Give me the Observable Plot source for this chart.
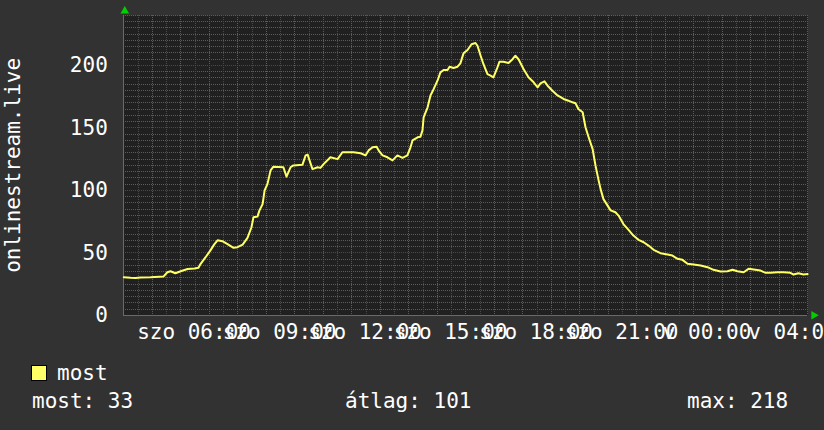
<!DOCTYPE html>
<html>
<head>
<meta charset="utf-8">
<script src="https://cdn.jsdelivr.net/npm/d3@7"></script>
<script src="https://cdn.jsdelivr.net/npm/@observablehq/plot@0.6"></script>
<style>
  html, body { margin: 0; padding: 0; background: #323232; overflow: hidden; }
  #wrap { position: relative; width: 824px; height: 430px; background: #323232; font-family: "DejaVu Sans Mono", monospace; color: #fff; }
  #chart svg { display: block; overflow: hidden; }
  .lg { position: absolute; font-size: 21px; line-height: 21px; white-space: pre; color: #fff; }
  .sw { position: absolute; left: 31px; top: 365px; width: 14px; height: 14px; background: #ffff66; border: 1px solid #000; }
</style>
</head>
<body>
<div id="wrap">
  <div id="chart"></div>
</div>
<script>
// hours since Saturday 00:00 (elapsed), and viewer counts
const hours = [3.5, 3.74, 3.91, 4.09, 4.44, 4.89, 5.03, 5.14, 5.31, 5.52, 5.74, 5.98, 6.12, 6.19, 6.37, 6.54, 6.68, 6.79, 6.96, 7.14,
  7.35, 7.49, 7.67, 7.84, 7.98, 8.05, 8.19, 8.26, 8.37, 8.44, 8.54, 8.65, 8.75, 9.10, 9.21, 9.35, 9.45, 9.77, 9.88, 9.95,
  10.12, 10.30, 10.40, 10.51, 10.75, 11.00, 11.17, 11.56, 11.81, 11.98, 12.09, 12.23, 12.37, 12.47, 12.58, 12.75, 12.93, 13.10, 13.28, 13.45,
  13.56, 13.63, 13.81, 13.91, 13.98, 14.02, 14.16, 14.26, 14.37, 14.51, 14.61, 14.72, 14.86, 14.93, 15.07, 15.21, 15.31, 15.42, 15.56, 15.70,
  15.84, 15.91, 16.02, 16.12, 16.26, 16.37, 16.47, 16.61, 16.68, 16.82, 17.00, 17.14, 17.24, 17.35, 17.53, 17.70, 17.88, 18.02, 18.12, 18.26,
  18.37, 18.54, 18.72, 18.93, 19.10, 19.24, 19.35, 19.45, 19.60, 19.70, 19.81, 19.95, 20.05, 20.16, 20.23, 20.33, 20.47, 20.58, 20.75, 20.86,
  21.03, 21.21, 21.38, 21.56, 21.74, 21.91, 22.09, 22.33, 22.58, 22.75, 22.93, 23.10, 23.28, 23.49, 23.74, 23.98, 24.19, 24.44, 24.68, 24.86,
  25.03, 25.25, 25.42, 25.60, 25.84, 26.02, 26.19, 26.44, 26.65, 26.89, 27.00, 27.17, 27.35, 27.49];
const viewers = [30.5, 30, 29.8, 30.3, 30.5, 31, 34.5, 35.3, 33.7, 35.5, 37, 37.5, 38, 41, 46.5, 52, 57, 60, 59.3, 57,
  54, 54.5, 56.6, 62, 70.5, 78.5, 79, 84, 89, 100, 105, 116, 119, 118.5, 111, 118.5, 120, 120.6, 128, 128.6,
  117, 118.5, 118, 121, 126.5, 125, 130.5, 130.5, 129.7, 128, 132, 134.5, 135, 131, 128, 126.5, 124, 128, 126, 128,
  134.5, 140, 142.5, 143, 148, 158.5, 166.5, 176, 181, 188, 194.5, 196.4, 196.4, 199, 198, 199, 201.7, 209.7, 212.4, 217,
  218, 215.8, 207.8, 201, 193, 191.8, 190.5, 198.5, 203, 203, 202, 205, 207.8, 205, 197, 190.5, 186.5, 182.5, 185.7, 187.3,
  183.8, 179.8, 176, 173.2, 171.8, 170.5, 169.7, 165.2, 162.5, 150.5, 142.5, 133, 120, 108, 101, 93, 88, 84, 82.5, 79.8,
  73, 68.4, 63.8, 60.4, 58.5, 55.8, 52.4, 49.7, 48.6, 47.8, 45.2, 44.4, 41.2, 40.6, 39.8, 38.5, 36.4, 35, 35.3, 36.4,
  35.3, 34.5, 37.2, 36.6, 35.8, 34, 34, 34.5, 34.5, 34, 32.6, 33.7, 32.6, 33];

const xTicks = [6, 9, 12, 15, 18, 21, 24, 27];
const xTickLabels = ["szo 06:00", "szo 09:00", "szo 12:00", "szo 15:00", "szo 18:00", "szo 21:00", "v 00:00", "v 04:00"];
const yTicks = [0, 50, 100, 150, 200];
const yTitle = "onlinestream.live";
const legendName = "most";
const statLabels = ["most", "átlag", "max"];
const statValues = [33, 101, 218];

const data = hours.map((h, i) => ({h, v: viewers[i]}));

const minorY = d3.range(0, 241, 5).filter(v => v % 50 !== 0);
const majorY = yTicks.filter(v => v > 0);
const minorX = d3.range(3.5, 27.51, 1);
const majorX = d3.range(4, 27.51, 1);

const gridMinor = "#5c5c5c";
const gridMajor = "#7c3434";

const plot = Plot.plot({
  width: 824,
  height: 350,
  marginLeft: 123.3,
  marginRight: 16.7,
  marginTop: 15,
  marginBottom: 35.2,
  x: {domain: [3.5, 27.5]},
  y: {domain: [0, 240]},
  style: {background: "transparent", color: "#fff", fontFamily: "'DejaVu Sans Mono', monospace", fontSize: "21px", overflow: "hidden"},
  marks: [
    Plot.frame({fill: "#202020", stroke: null}),
    Plot.ruleY(minorY, {stroke: gridMinor, strokeDasharray: "1,1", shapeRendering: "crispEdges"}),
    Plot.ruleX(minorX, {stroke: gridMinor, strokeDasharray: "1,1", shapeRendering: "crispEdges"}),
    Plot.ruleY(majorY, {stroke: gridMajor, strokeDasharray: "1,1", shapeRendering: "crispEdges"}),
    Plot.ruleX(majorX, {stroke: gridMajor, strokeDasharray: "1,1", shapeRendering: "crispEdges"}),
    Plot.ruleY([0], {stroke: "#6a6a6a", shapeRendering: "crispEdges"}),
    Plot.ruleX([3.5], {stroke: "#6a6a6a", shapeRendering: "crispEdges"}),
    Plot.line(data, {x: "h", y: "v", stroke: "#ffff66", strokeWidth: 2}),
    Plot.axisY(yTicks, {tickSize: 0, tickPadding: 16, fill: "#fff", fontSize: 21, label: null}),
    Plot.axisX(xTicks, {tickSize: 0, tickPadding: 9, fill: "#fff", fontSize: 21, label: null, dx: -1,
      tickFormat: d => xTickLabels[xTicks.indexOf(d)]}),
    Plot.text([yTitle], {frameAnchor: "left", textAnchor: "middle", lineAnchor: "middle", rotate: -90, dx: -111, fill: "#fff", fontSize: 21, text: d => d}),
    Plot.dot([0], {frameAnchor: "top-left", symbol: "triangle", r: 3.2, fill: "#00d000", stroke: null, dy: -4.5, dx: 1}),
    Plot.dot([0], {frameAnchor: "bottom-right", symbol: "triangle", rotate: 90, r: 3.2, fill: "#00d000", stroke: null, dx: 6})
  ]
});
document.getElementById("chart").appendChild(plot);

const wrap = document.getElementById("wrap");
const sw = document.createElement("div");
sw.className = "sw";
wrap.appendChild(sw);
function addText(txt, left, top) {
  const d = document.createElement("div");
  d.className = "lg";
  d.style.left = left + "px";
  d.style.top = top + "px";
  d.textContent = txt;
  wrap.appendChild(d);
}
addText(legendName, 57, 363);
const statX = [32, 345, 687];
statLabels.forEach((l, i) => addText(l + ": " + statValues[i], statX[i], 391));
</script>
</body>
</html>
